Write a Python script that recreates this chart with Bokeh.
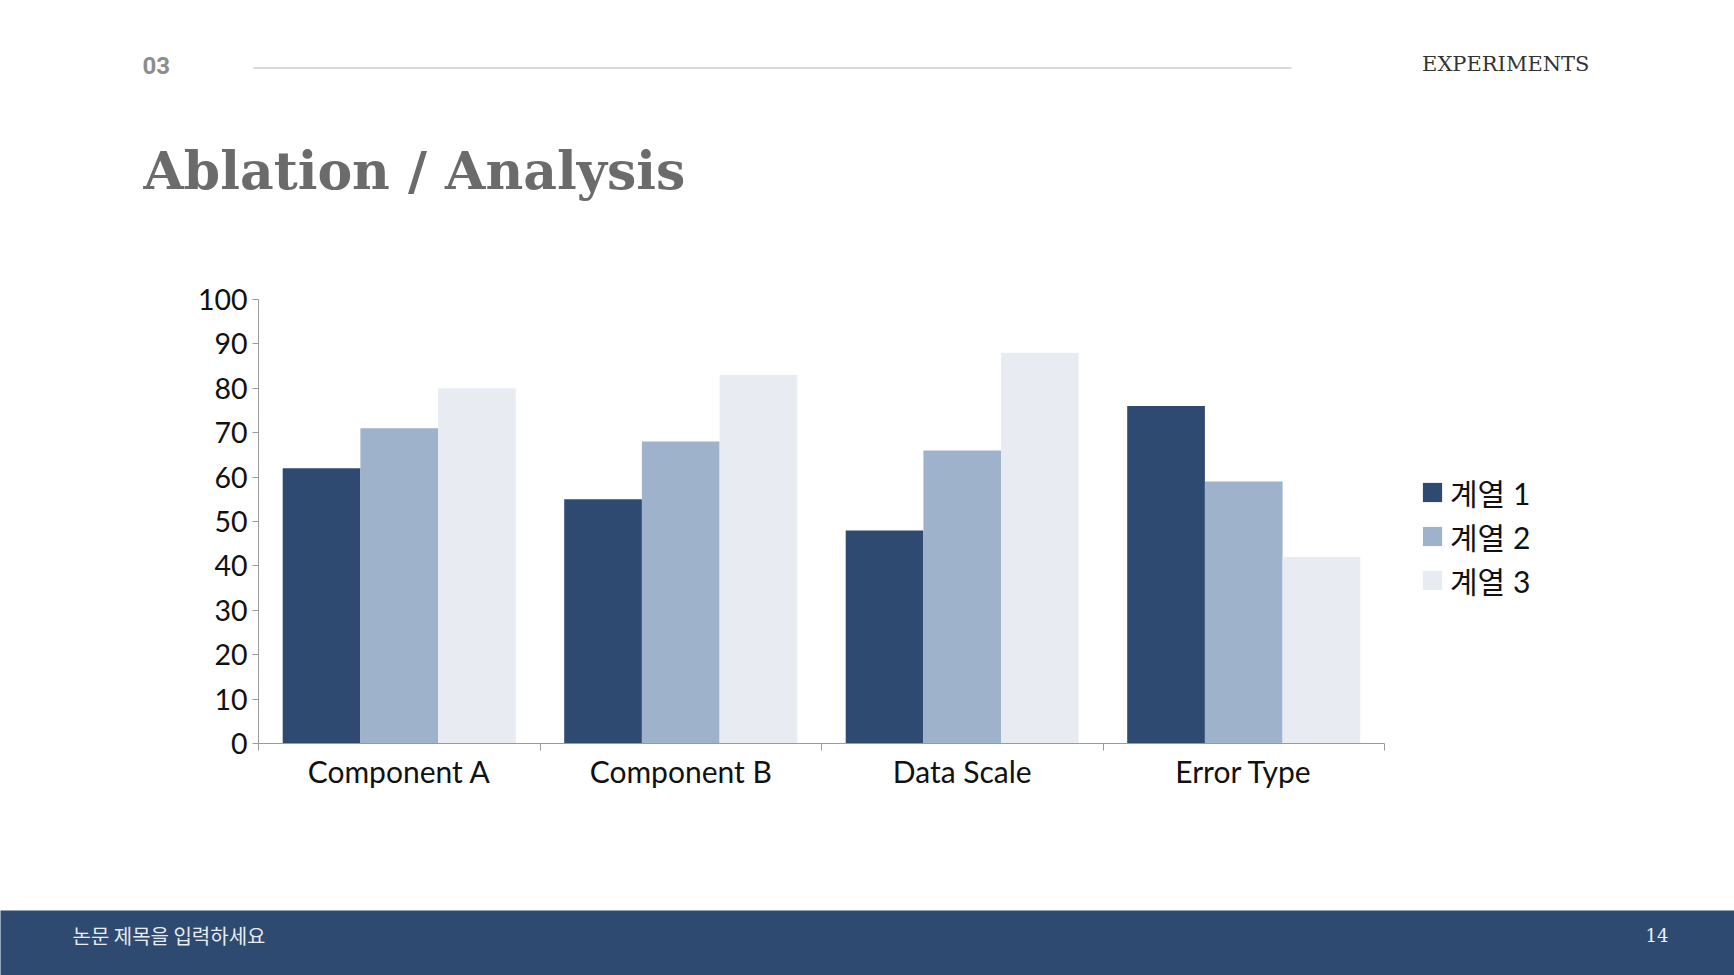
import numpy as np
from bokeh.plotting import figure
from bokeh.layouts import column
from bokeh.models import (ColumnDataSource, Range1d, FixedTicker, Legend, LegendItem)
from bokeh.core.properties import value
from bokeh.transform import dodge
from bokeh.embed import file_html
from bokeh.resources import INLINE

# ---------------- data ----------------
categories = ["Component A", "Component B", "Data Scale", "Error Type"]
series_names = ["계열 1", "계열 2", "계열 3"]
series1 = [62, 55, 48, 76]
series2 = [71, 68, 66, 59]
series3 = [80, 83, 88, 42]
y_ticks = [0, 10, 20, 30, 40, 50, 60, 70, 80, 90, 100]

header_num = "03"
header_section = "EXPERIMENTS"
slide_title = "Ablation / Analysis"
footer_text = "논문 제목을 입력하세요"
page_number = "14"

# ---------------- styles / layout ----------------
colors = ["#2e4a70", "#9fb2cb", "#e8ecf2"]
FOOT_COLOR = "#2e4a70"
W = 1734
H_HEAD, H_CHART, H_FOOT = 250, 660, 65
FL, FR, FT, FB = 258, 1384, 299, 743   # chart frame edges in page pixels
BAR_W = 0.276
AX_COLOR = "#9a9a9a"
LATO = "Lato"


def no_align(f):
    try:
        f.frame_align = False
    except Exception:
        pass


def deco_fig(y0, y1, bg):
    f = figure(width=W, height=y1 - y0, output_backend="svg", toolbar_location=None,
               x_range=Range1d(0, W), y_range=Range1d(y1, y0),
               x_axis_location=None, y_axis_location=None, min_border=0)
    f.min_border_left = f.min_border_right = f.min_border_top = f.min_border_bottom = 0
    f.background_fill_color = bg
    f.border_fill_color = bg
    f.outline_line_color = None
    f.grid.visible = False
    no_align(f)
    return f


# ---------------- header ----------------
head = deco_fig(0, H_HEAD, "white")
head.segment(x0=[253], y0=[67.5], x1=[1291], y1=[67.5], line_color="#d3d8e2", line_width=2)
head.text(x=[142], y=[64.5], text=[header_num], text_font=value("Roboto"), text_font_size="24px",
          text_color="#8c8c8c", text_baseline="middle", text_align="left", text_font_style="bold")
head.text(x=[1589], y=[63], text=[header_section], text_font=value("DejaVu Serif"), text_font_size="21px",
          text_color="#333333", text_baseline="middle", text_align="right")
head.text(x=[143], y=[170], text=[slide_title], text_font=value("DejaVu Serif"), text_font_size="52px",
          text_color="#6b6b6b", text_baseline="middle", text_align="left", text_font_style="bold")

# ---------------- chart ----------------
p = figure(frame_width=FR - FL, frame_height=FB - FT, output_backend="svg", toolbar_location=None,
           x_range=Range1d(0, len(categories)), y_range=Range1d(0, 100),
           min_border_left=FL, min_border_right=0,
           min_border_top=FT - H_HEAD, min_border_bottom=H_HEAD + H_CHART - FB)
p.background_fill_color = "white"
p.border_fill_color = "white"
p.outline_line_color = None
p.grid.visible = False
no_align(p)

src = ColumnDataSource(dict(x=np.arange(len(categories)) + 0.5,
                            s1=series1, s2=series2, s3=series3))
renderers = []
for k, col in enumerate(["s1", "s2", "s3"]):
    r = p.vbar(x=dodge("x", (k - 1) * BAR_W), top=col, width=BAR_W,
               source=src, fill_color=colors[k], line_color=None)
    renderers.append(r)

xa = p.xaxis[0]
xa.ticker = FixedTicker(ticks=list(np.arange(len(categories)) + 0.5),
                        minor_ticks=list(range(len(categories) + 1)))
xa.major_label_overrides = {float(i + 0.5): c for i, c in enumerate(categories)}
xa.major_tick_out = 0
xa.major_tick_in = 0
xa.minor_tick_out = 7
xa.minor_tick_in = 0
xa.minor_tick_line_color = AX_COLOR
xa.axis_line_color = AX_COLOR
xa.major_label_text_font = LATO
xa.major_label_text_font_size = "30px"
xa.major_label_text_color = "#111111"
xa.major_label_standoff = 2

ya = p.yaxis[0]
ya.ticker = FixedTicker(ticks=y_ticks, minor_ticks=[])
ya.major_tick_out = 6
ya.major_tick_in = 0
ya.major_tick_line_color = AX_COLOR
ya.axis_line_color = AX_COLOR
ya.major_label_text_font = LATO
ya.major_label_text_font_size = "28.5px"
ya.major_label_text_color = "#111111"
ya.major_label_standoff = 5

legend = Legend(items=[LegendItem(label=n, renderers=[r]) for n, r in zip(series_names, renderers)],
                location=(36, FB - 602), orientation="vertical",
                padding=0, margin=0, spacing=0,
                glyph_width=24, glyph_height=24, label_height=44,
                label_standoff=6,
                label_text_font="Lato, 'Noto Sans CJK KR'",
                label_text_font_size="30px", label_text_color="#111111",
                border_line_color=None, background_fill_alpha=0)
p.add_layout(legend, "right")

# ---------------- footer ----------------
foot = deco_fig(H_HEAD + H_CHART, H_HEAD + H_CHART + H_FOOT, FOOT_COLOR)
foot.text(x=[72], y=[934.5], text=[footer_text], text_font=value("Noto Sans CJK KR"), text_font_size="20px",
          text_color="#e8ecf2", text_baseline="middle", text_align="left")
foot.text(x=[1668], y=[934.5], text=[page_number], text_font=value("DejaVu Serif"), text_font_size="18px",
          text_color="#f0f2f6", text_baseline="middle", text_align="right")

page = column(head, p, foot, spacing=0)
open("out.html", "w").write(file_html(page, INLINE))
